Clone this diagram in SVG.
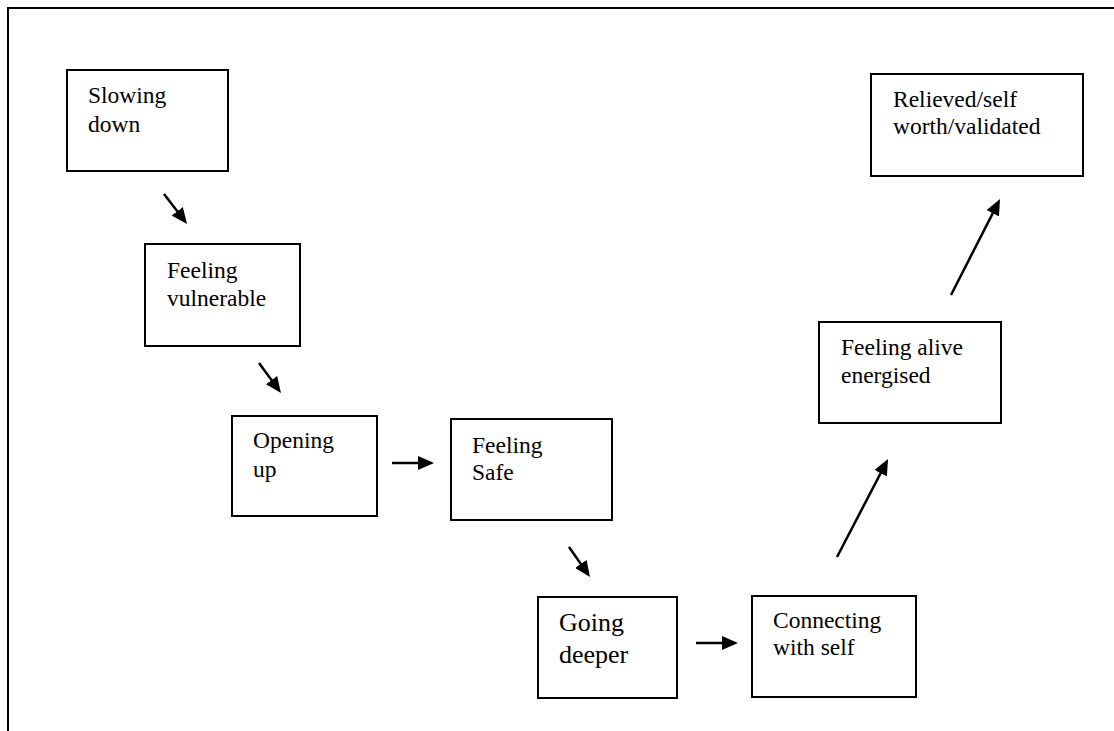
<svg xmlns="http://www.w3.org/2000/svg" width="1114" height="731" viewBox="0 0 1114 731">
  <style>
    .box { fill: #ffffff; stroke: #000000; stroke-width: 2; }
    .lbl { font-family: "Liberation Serif", "Times New Roman", serif; font-size: 23.5px; fill: #000000; }
    .big { font-size: 26px; }
    .frame { fill: none; stroke: #000000; stroke-width: 2; }
    .conn { fill: none; stroke: #000000; stroke-width: 2.5; marker-end: url(#arrow); }
  </style>
  <defs>
    <marker id="arrow" viewBox="0 0 16 14" refX="12" refY="7" markerWidth="16" markerHeight="14" markerUnits="userSpaceOnUse" orient="auto">
      <path d="M0,0 L16,7 L0,14 Z" fill="#000000"/>
    </marker>
  </defs>

  <rect width="1114" height="731" fill="#ffffff"/>

  <!-- page frame: top and left edges only -->
  <path class="frame" d="M8,731 L8,8 L1114,8"/>

  <g id="node-slowing-down">
    <rect class="box" x="67" y="70" width="161" height="101"/>
    <text class="lbl" x="88" y="103">Slowing</text>
    <text class="lbl" x="88" y="132">down</text>
  </g>

  <g id="node-feeling-vulnerable">
    <rect class="box" x="145" y="244" width="155" height="102"/>
    <text class="lbl" x="167" y="278">Feeling</text>
    <text class="lbl" x="167" y="306">vulnerable</text>
  </g>

  <g id="node-opening-up">
    <rect class="box" x="232" y="416" width="145" height="100"/>
    <text class="lbl" x="253" y="448">Opening</text>
    <text class="lbl" x="253" y="477">up</text>
  </g>

  <g id="node-feeling-safe">
    <rect class="box" x="451" y="419" width="161" height="101"/>
    <text class="lbl" x="472" y="453">Feeling</text>
    <text class="lbl" x="472" y="480">Safe</text>
  </g>

  <g id="node-going-deeper">
    <rect class="box" x="538" y="597" width="139" height="101"/>
    <text class="lbl big" x="559" y="631">Going</text>
    <text class="lbl big" x="559" y="663">deeper</text>
  </g>

  <g id="node-connecting-with-self">
    <rect class="box" x="752" y="596" width="164" height="101"/>
    <text class="lbl" x="773" y="628">Connecting</text>
    <text class="lbl" x="773" y="655">with self</text>
  </g>

  <g id="node-feeling-alive">
    <rect class="box" x="819" y="322" width="182" height="101"/>
    <text class="lbl" x="841" y="355">Feeling alive</text>
    <text class="lbl" x="841" y="383">energised</text>
  </g>

  <g id="node-relieved">
    <rect class="box" x="871" y="74" width="212" height="102"/>
    <text class="lbl" x="893" y="107">Relieved/self</text>
    <text class="lbl" x="893" y="134">worth/validated</text>
  </g>

  <g id="connectors">
    <line class="conn" x1="164" y1="194" x2="184.6" y2="220.8"/>
    <line class="conn" x1="259" y1="363" x2="278.6" y2="389.8"/>
    <line class="conn" x1="392" y1="463" x2="430" y2="463"/>
    <line class="conn" x1="569" y1="547" x2="587.7" y2="573.7"/>
    <line class="conn" x1="696" y1="643" x2="734" y2="643"/>
    <line class="conn" x1="837" y1="557" x2="886.2" y2="462.5"/>
    <line class="conn" x1="951" y1="295" x2="998.2" y2="202.6"/>
  </g>
</svg>
